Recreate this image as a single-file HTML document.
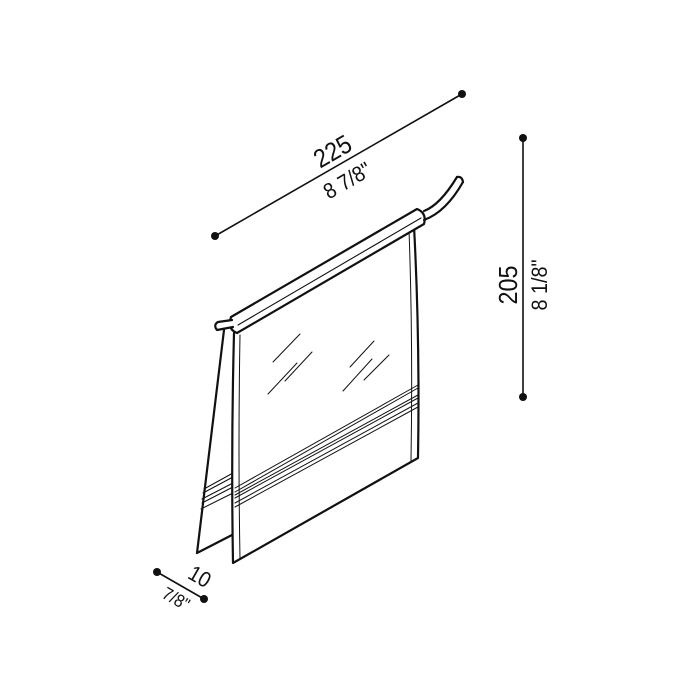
<!DOCTYPE html>
<html><head><style>html,body{margin:0;padding:0;background:#fff}svg{display:block}</style></head>
<body>
<svg width="700" height="700" viewBox="0 0 700 700" xmlns="http://www.w3.org/2000/svg" font-family="Liberation Sans, sans-serif">
<g stroke="#111" fill="none" stroke-width="1.6" stroke-linejoin="round" stroke-linecap="round">
<line x1="215" y1="236" x2="462" y2="94"/>
<line x1="523" y1="138" x2="523" y2="397"/>
<line x1="157" y1="572" x2="204" y2="599"/>
<path d="M224,330 L197,553 L232,535" stroke-width="2.2"/>
<line x1="204" y1="489" x2="233" y2="473" stroke-width="1"/>
<line x1="203" y1="493" x2="233" y2="477" stroke-width="1"/>
<line x1="202" y1="499" x2="233" y2="483" stroke-width="1"/>
<line x1="202" y1="503" x2="233" y2="487" stroke-width="1"/>
<line x1="201" y1="509" x2="233" y2="493" stroke-width="1"/>
<path d="M234,333 Q231,450 233,563 L418,458 Q420,340 414,226" stroke-width="2.2" fill="#fff"/>
<path d="M240,335 Q238,450 240,559" stroke-width="1"/>
<path d="M409,230 Q413,340 411,461" stroke-width="1"/>
<g stroke-width="1">
<line x1="235" y1="488" x2="418" y2="385"/>
<line x1="235" y1="492" x2="418" y2="388"/>
<line x1="235" y1="495" x2="418" y2="395"/>
<line x1="235" y1="498" x2="418" y2="398"/>
<line x1="235" y1="503" x2="418" y2="403"/>
<line x1="235" y1="507" x2="418" y2="407"/>
<line x1="273" y1="362" x2="300" y2="334"/>
<line x1="268" y1="394" x2="297" y2="363"/>
<line x1="285" y1="381" x2="312" y2="352"/>
<line x1="350" y1="367" x2="374" y2="341"/>
<line x1="343" y1="391" x2="372" y2="359"/>
<line x1="364" y1="380" x2="389" y2="355"/>
</g>
<path d="M231,317 L417,209 Q427,213 424,224 L237,333 Q227,329 231,317 Z" fill="#fff" stroke-width="2.2"/>
<line x1="238" y1="325" x2="421" y2="218" stroke-width="1.1"/>
<path d="M424,211 Q440,205 457,177" stroke-width="2.2"/>
<path d="M424,220 Q446,212 463,182" stroke-width="2.2"/>
<path d="M457,177 Q462,176 463,182" stroke-width="2.2"/>
<path d="M232,320 L218,322 Q213,325 217,330 L233,327" stroke-width="2.2" fill="#fff"/>
</g>
<g fill="#111">
<circle cx="215" cy="236" r="4"/><circle cx="462" cy="94" r="4"/>
<circle cx="523" cy="138" r="4"/><circle cx="523" cy="397" r="4"/>
<circle cx="157" cy="572" r="4"/><circle cx="204" cy="599" r="4"/>
</g>
<g fill="#111">
<text font-size="26" text-anchor="middle" transform="translate(337,159) rotate(-30) scale(0.9,1)">225</text>
<text font-size="22" text-anchor="middle" transform="translate(351,187) rotate(-30) scale(0.9,1)">8 7/8"</text>
<text font-size="26" text-anchor="middle" transform="translate(517,285) rotate(-90) scale(0.9,1)">205</text>
<text font-size="22" text-anchor="middle" transform="translate(547,285) rotate(-90) scale(0.9,1)">8 1/8"</text>
<text font-size="22" text-anchor="middle" transform="translate(196,583) rotate(30) scale(0.9,1)">10</text>
<text font-size="18" text-anchor="middle" transform="translate(173,604) rotate(30) scale(0.9,1)">7/8"</text>
</g>
</svg>
</body></html>
